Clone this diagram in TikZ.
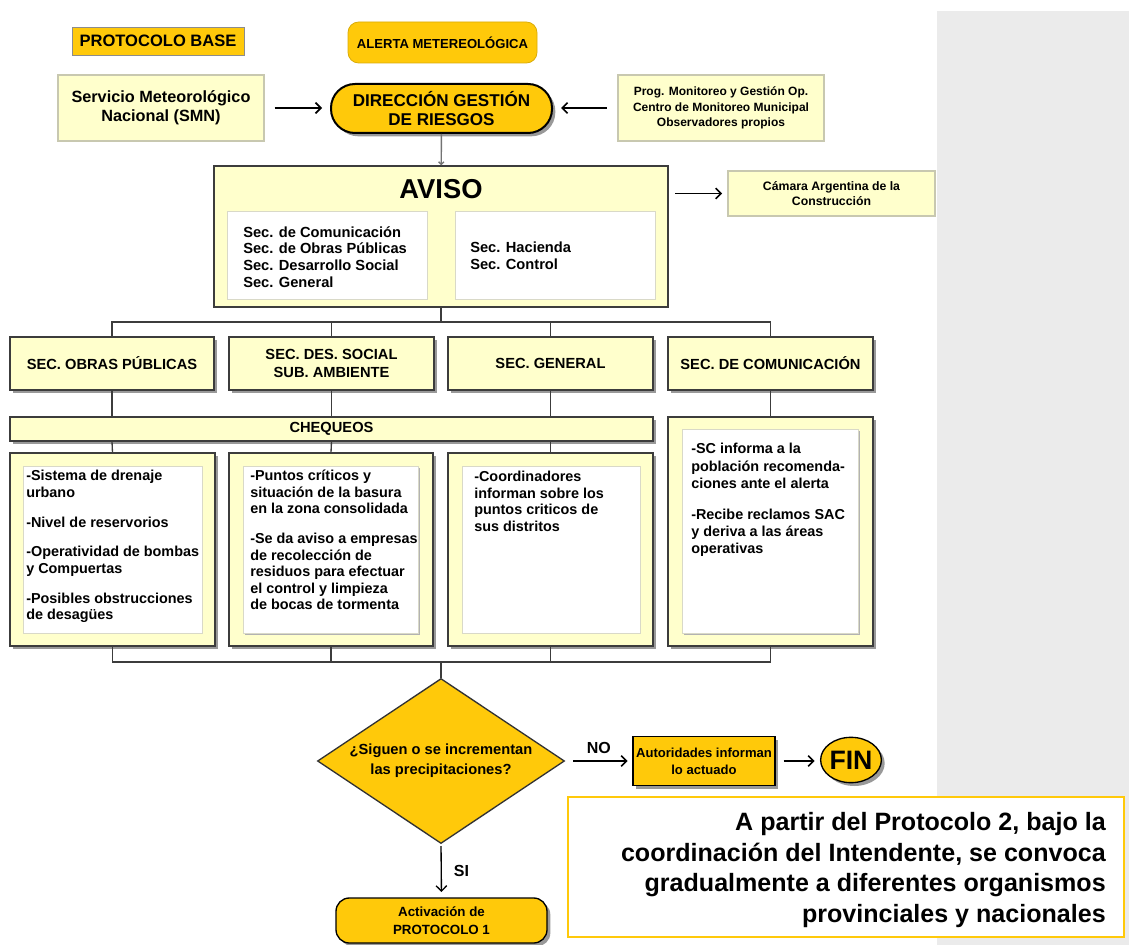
\documentclass[tikz,border=0pt]{standalone}
\usepackage{fontspec}
\setmainfont{Liberation Sans}
\usetikzlibrary{arrows.meta,positioning,shapes.geometric,shadows}

\definecolor{gold}{HTML}{FFC90A}
\definecolor{paleyellow}{HTML}{FFFFCC}
\definecolor{panelgrey}{HTML}{EBEBEB}
\definecolor{edgegrey}{HTML}{C8C8B0}
\definecolor{linegrey}{HTML}{3C3C3C}

\begin{document}
\begin{tikzpicture}[x=0.75pt,y=-0.75pt,>={Straight Barb[length=4pt,width=8pt]},
  font=\bfseries,
  pxsize/.style 2 args={minimum width=#1*0.75pt,minimum height=#2*0.75pt},
  shade/.style={drop shadow={shadow xshift=2.5pt,shadow yshift=-2.5pt,fill=black!40,opacity=1}},
  box/.style={draw=edgegrey,fill=paleyellow,inner sep=0pt,line width=0.8pt},
  secbox/.style={draw=linegrey,fill=paleyellow,inner sep=0pt,line width=0.9pt,shade},
  goldbox/.style={draw=black,fill=gold,inner sep=0pt,line width=1pt},
  listbox/.style={draw=edgegrey!70,fill=white,inner sep=0pt,line width=0.6pt},
  listshade/.style={drop shadow={shadow xshift=1.5pt,shadow yshift=-1.5pt,fill=black!30,opacity=1}},
  listtxt/.style={align=left,anchor=north west,inner sep=0pt,font=\bfseries\fontsize{10.8}{12.4}\selectfont},
  sectxt/.style={font=\bfseries\fontsize{11}{13}\selectfont,align=center},
  link/.style={draw=linegrey,line width=1pt},
  arr/.style={draw=black,line width=1.2pt,->}]

  \useasboundingbox (0,0) rectangle (1129,945);
  \fill[panelgrey] (937,11) rectangle (1129,945);

  % cabecera
  \node[goldbox,draw=black!45,line width=0.6pt,pxsize={172}{28},
    font=\bfseries\fontsize{12.4}{14}\selectfont] (base) at (158,41) {PROTOCOLO BASE};
  \node[goldbox,draw=gold!85!black,line width=0.6pt,rounded corners=8pt,pxsize={189}{41},
    font=\bfseries\fontsize{9.8}{12}\selectfont] (alerta) at (442.5,42.5) {ALERTA METEREOLÓGICA};

  \node[box,pxsize={206}{66},align=center,
    font=\bfseries\fontsize{12.2}{14.5}\selectfont] (smn) at (161,108) {Servicio Meteorológico\\Nacional (SMN)};
  \node[goldbox,line width=1.5pt,rounded corners=18pt,shade,pxsize={221}{49},align=center,
    font=\bfseries\fontsize{12.8}{14.5}\selectfont] (dir) at (441.5,108.5) {DIRECCIÓN GESTIÓN\\DE RIESGOS};
  \node[box,pxsize={206}{66},align=center,
    font=\bfseries\fontsize{9}{11.5}\selectfont] (prog) at (721,108)
    {Prog. Monitoreo y Gestión Op.\\Centro de Monitoreo Municipal\\Observadores propios};

  \draw[arr,shorten <=7.5pt,shorten >=6pt] (smn.east) -- (smn.east -| dir.west);
  \draw[arr,shorten <=8pt,shorten >=6pt] (prog.west) -- (prog.west -| dir.east);

  % aviso
  \node[box,draw=linegrey,line width=0.9pt,pxsize={454}{141}] (aviso) at (441,236.5) {};
  \node[font=\bfseries\fontsize{20.5}{24}\selectfont,inner sep=0pt] (avisotit) at (441,189) {AVISO};
  \node[listbox,pxsize={200}{88}] (avisoizq) at (327,255) {};
  \node[listbox,pxsize={200}{88}] (avisoder) at (555,255) {};
  \node[listtxt,anchor=west,font=\bfseries\fontsize{11}{12.6}\selectfont] (avisoizqtxt) at (243,257)
    {Sec. de Comunicación\\Sec. de Obras Públicas\\Sec. Desarrollo Social\\Sec. General};
  \node[listtxt,anchor=west,font=\bfseries\fontsize{11}{12.6}\selectfont] (avisodertxt) at (470,256)
    {Sec. Hacienda\\Sec. Control};
  \draw[link,draw=black!55,->,>={Straight Barb[length=2pt,width=4pt]}] (dir) -- (aviso);

  \node[box,pxsize={207}{45},align=center,
    font=\bfseries\fontsize{9.2}{11.5}\selectfont] (camara) at (831.5,193.5) {Cámara Argentina de la\\Construcción};
  \draw[arr,shorten <=5pt,shorten >=4pt] (camara.west -| aviso.east) -- (camara.west);

  % secretarias
  \coordinate (bussup) at (441,322);
  \node[secbox,sectxt,pxsize={204}{53}] (sobras) at (112,363.5) {SEC. OBRAS PÚBLICAS};
  \node[secbox,sectxt,pxsize={205}{53}] (sdes) at (331.5,363.5) {SEC. DES. SOCIAL\\SUB. AMBIENTE};
  \node[secbox,sectxt,pxsize={205}{53}] (sgen) at (550.5,363.5) {SEC. GENERAL};
  \node[secbox,sectxt,pxsize={205}{53}] (scom) at (770.5,363.5) {SEC. DE COMUNICACIÓN};
  \draw[link] (aviso) -- (bussup);
  \foreach \s in {sobras,sdes,sgen,scom}
    \draw[link] (\s.north) |- (bussup);

  % chequeos
  \node[secbox,sectxt,pxsize={643}{24}] (cheq) at (331.5,429) {CHEQUEOS};
  \node[secbox,pxsize={205}{193}] (det1) at (112.5,549.5) {};
  \node[secbox,pxsize={204}{193}] (det2) at (331,549.5) {};
  \node[secbox,pxsize={205}{193}] (det3) at (550.5,549.5) {};
  \node[secbox,pxsize={205}{229}] (det4) at (770.5,531.5) {};
  \node[listbox,pxsize={179}{167}] (lista1) at (112.5,549.5) {};
  \node[listbox,listshade,pxsize={175}{167}] (lista2) at (330.5,549.5) {};
  \node[listbox,pxsize={178}{167}] (lista3) at (551,549.5) {};
  \node[listbox,listshade,pxsize={176}{204}] (lista4) at (770,531) {};

  \foreach \s/\d in {sobras/det1,sdes/det2,sgen/det3}{
    \draw[link] (\s.south) -- (\s.south |- cheq.north);
    \draw[link] (\s.south |- cheq.south) -- (\d.north);
  }
  \draw[link] (scom) -- (det4);

  \node[listtxt] (lista1txt) at (26,470)
    {-Sistema de drenaje\\urbano\\[10pt]-Nivel de reservorios\\[10pt]-Operatividad de bombas\\y Compuertas\\[10pt]-Posibles obstrucciones\\de desagües};
  \node[listtxt] (lista2txt) at (250,470)
    {-Puntos críticos y\\situación de la basura\\en la zona consolidada\\[10pt]-Se da aviso a empresas\\de recolección de\\residuos para efectuar\\el control y limpieza\\de bocas de tormenta};
  \node[listtxt] (lista3txt) at (474,471)
    {-Coordinadores\\informan sobre los\\puntos criticos de\\sus distritos};
  \node[listtxt,font=\bfseries\fontsize{10.8}{13}\selectfont] (lista4txt) at (691,443)
    {-SC informa a la\\población recomenda-\\ciones ante el alerta\\[10pt]-Recibe reclamos SAC\\y deriva a las áreas\\operativas};

  % decision
  \coordinate (businf) at (441,662);
  \foreach \d in {det1,det2,det3,det4}
    \draw[link] (\d.south) |- (businf);
  \node[diamond,goldbox,draw=black!80,aspect=1.5,pxsize={247}{165},align=center,
    font=\bfseries\fontsize{11}{15}\selectfont] (preg) at (441,761) {¿Siguen o se incrementan\\las precipitaciones?};
  \draw[link] (businf) -- (preg);

  \node[goldbox,shade,pxsize={142}{49},align=center,
    font=\bfseries\fontsize{9.8}{12.5}\selectfont] (aut) at (704,761) {Autoridades informan\\lo actuado};
  \node[ellipse,goldbox,shade,minimum width=43.5pt,minimum height=34pt,
    font=\bfseries\fontsize{20}{22}\selectfont] (fin) at (851,760) {FIN};
  \draw[arr,shorten <=6pt,shorten >=3.5pt] (preg.east) -- node[above=5pt,inner sep=0pt,font=\bfseries\fontsize{12}{14}\selectfont] (lblno) {NO} (preg.east -| aut.west);
  \draw[arr,shorten <=6pt,shorten >=4pt] (aut.east) -- (aut.east -| fin.west);

  \node[goldbox,rounded corners=10pt,shade,pxsize={211}{45},align=center,
    font=\bfseries\fontsize{10}{13.5}\selectfont] (activ) at (441.5,920.5) {Activación de\\PROTOCOLO 1};
  \draw[arr,line width=1pt,shorten <=1.5pt,shorten >=4pt] (preg.south) -- node[right=9pt,inner sep=0pt,font=\bfseries\fontsize{12}{14}\selectfont] (lblsi) {SI} (activ.north);

  % nota
  \node[draw=gold,fill=white,line width=1pt,inner sep=0pt,pxsize={556}{140}] (notabox) at (846,867) {};
  \node[anchor=east,align=right,inner sep=0pt,font=\bfseries\fontsize{18.8}{23.1}\selectfont] (nota) at (1106,870)
    {A partir del Protocolo 2, bajo la\\coordinación del Intendente, se convoca\\gradualmente a diferentes organismos\\provinciales y nacionales};
\end{tikzpicture}
\end{document}
